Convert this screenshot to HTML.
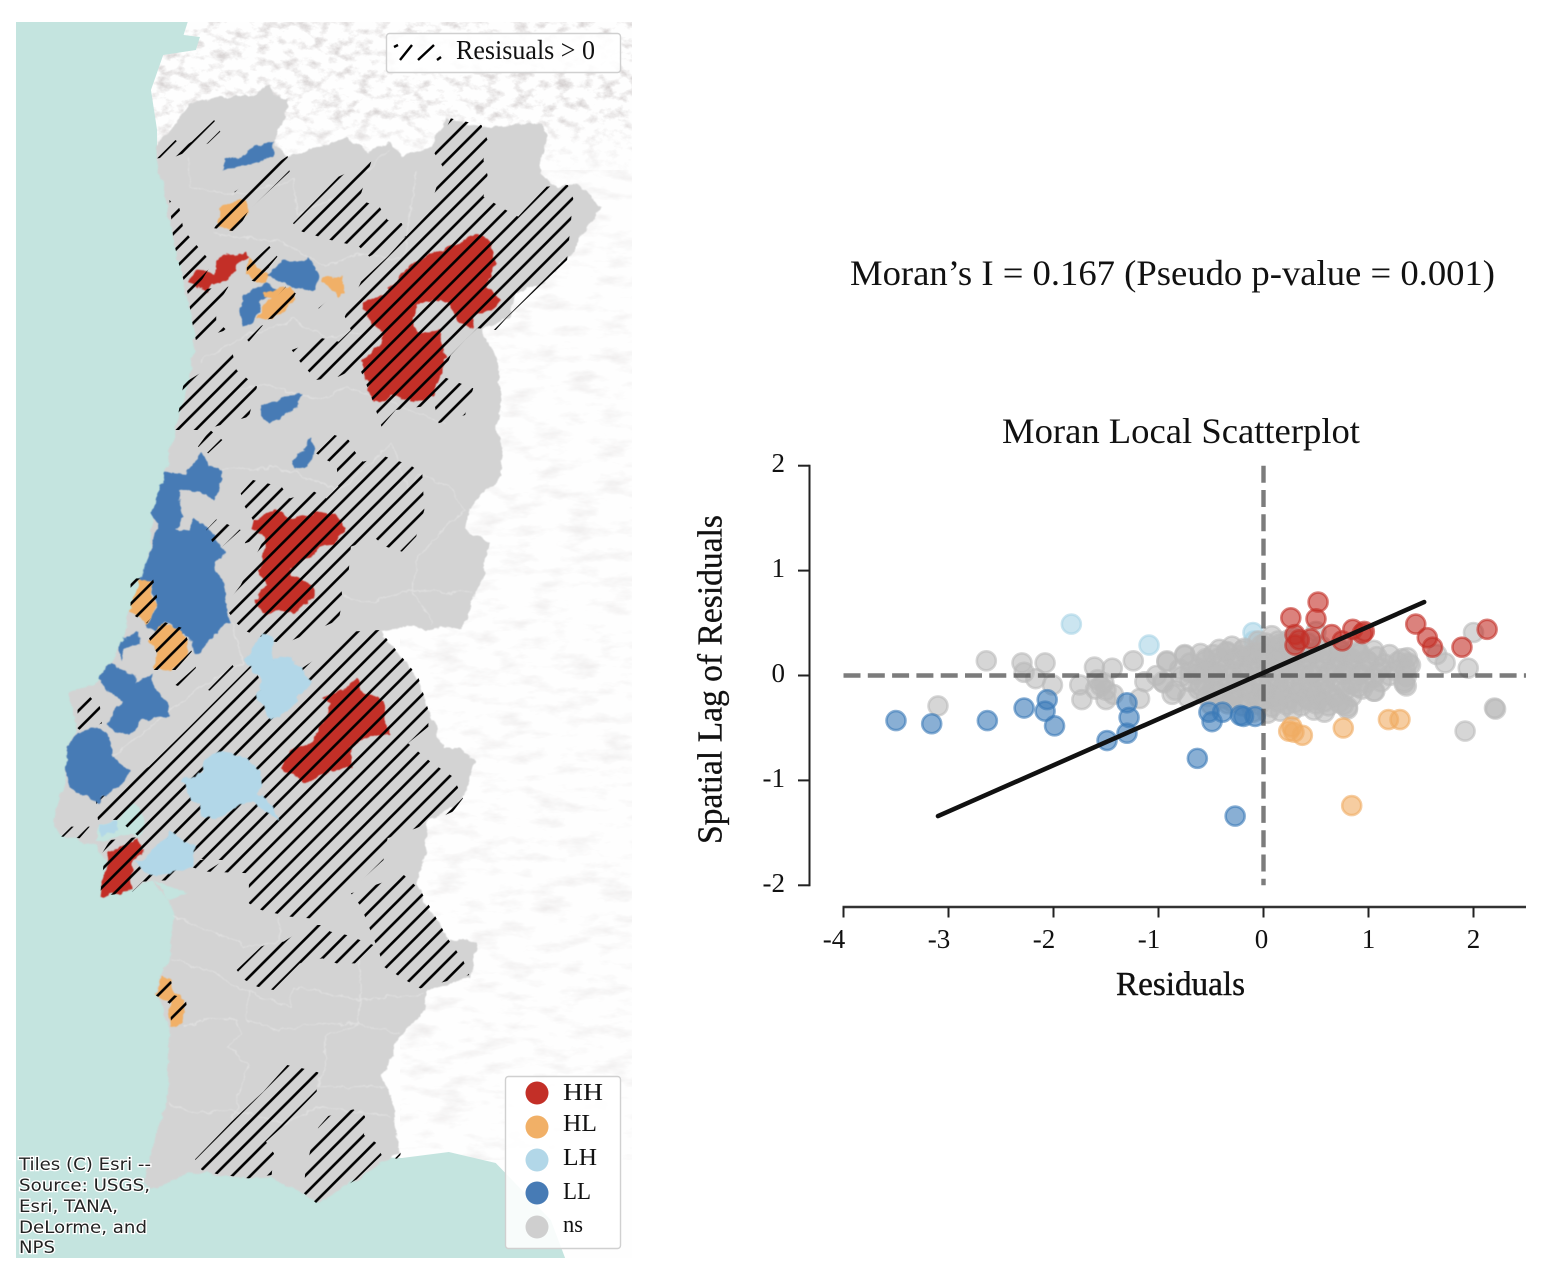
<!DOCTYPE html>
<html lang="en">
<head>
<meta charset="utf-8">
<title>Moran Local Scatterplot and Map</title>
<style>
html,body{margin:0;padding:0;background:#fff;width:1558px;height:1286px;overflow:hidden}
svg{display:block;position:absolute;left:0;top:0}
text{font-family:"Liberation Serif",serif;fill:#111}
.r{stroke:none}
.b{fill:none;stroke:#e0e0e0;stroke-width:1;vector-effect:non-scaling-stroke}
</style>
</head>
<body>
<svg id="figure" width="1558" height="1286" viewBox="0 0 1558 1286" xmlns="http://www.w3.org/2000/svg">
<defs>
<pattern id="hatch" patternUnits="userSpaceOnUse" width="18.2" height="18.2">
<path d="M-2 8.6L8.6 -2M4.6 20.2L20.2 4.6" stroke="#000" stroke-width="2.6" fill="none"/>
</pattern>
<filter id="terrain" x="0" y="0" width="100%" height="100%" color-interpolation-filters="sRGB">
<feTurbulence type="fractalNoise" baseFrequency="0.07 0.1" numOctaves="4" seed="7"/>
<feColorMatrix type="matrix" values="0 0 0 0 0.72  0 0 0 0 0.69  0 0 0 0 0.69  1.5 0 0 0 -0.72"/>
</filter>
<filter id="terrain2" x="0" y="0" width="100%" height="100%" color-interpolation-filters="sRGB">
<feTurbulence type="fractalNoise" baseFrequency="0.03 0.08" numOctaves="4" seed="12"/>
<feColorMatrix type="matrix" values="0 0 0 0 0.8  0 0 0 0 0.78  0 0 0 0 0.78  0.7 0 0 0 -0.34"/>
</filter>
<linearGradient id="fadeNorth" x1="0" y1="0" x2="0" y2="1">
<stop offset="0" stop-color="#fff"/><stop offset=".55" stop-color="#fff"/><stop offset="1" stop-color="#000"/>
</linearGradient>
<mask id="northMask" maskUnits="userSpaceOnUse" x="150" y="22" width="482" height="160">
<rect x="150" y="22" width="482" height="160" fill="url(#fadeNorth)"/>
</mask>
<filter id="rough" x="-3%" y="-3%" width="106%" height="106%" color-interpolation-filters="sRGB">
<feTurbulence type="fractalNoise" baseFrequency="0.09" numOctaves="3" seed="3" result="n"/>
<feDisplacementMap in="SourceGraphic" in2="n" scale="8" xChannelSelector="R" yChannelSelector="G" result="d"/>
<feGaussianBlur in="d" stdDeviation="0.5"/>
</filter>
<clipPath id="mapclip"><rect x="16" y="22" width="616" height="1236"/></clipPath>
<clipPath id="hatchclip">
<polygon transform="scale(.408 .3333)" points="385,475 430,420 450,440 470,425 525,360 540,395 510,430 430,470"/>
<polygon transform="scale(.408 .3333)" points="575,575 705,468 710,515 610,630 580,695 525,685 545,640 575,600"/>
<polygon transform="scale(.408 .3333)" points="415,600 440,625 450,690 485,740 520,790 480,870 560,860 530,920 530,960 555,990 480,1020 470,960 460,880 440,800 425,720"/>
<polygon transform="scale(.408 .3333)" points="605,800 660,738 680,770 660,800 650,850 605,840"/>
<polygon transform="scale(.408 .3333)" points="625,965 700,860 725,880 695,950"/>
<polygon transform="scale(.408 .3333)" points="780,925 845,860 850,880 790,930"/>
<polygon transform="scale(.408 .3333)" points="590,1000 645,975 610,1025"/>
<polygon transform="scale(.408 .3333)" points="718,670 830,530 910,485 880,600 930,620 950,660 985,670 995,710 905,770 880,740 810,720 740,695"/>
<polygon transform="scale(.408 .3333)" points="1065,460 1105,355 1180,375 1195,420 1185,480 1195,525 1185,590 1240,630 1270,650 1285,630 1340,560 1392,555 1405,595 1390,780 1330,850 1245,950 1215,990 1170,985 1140,1020 1105,1065 1085,1130 1160,1165 1140,1245 1075,1270 1065,1215 970,1230 935,1280 910,1190 880,1100 830,1130 775,1140 735,1085 715,1050 790,1015 830,1025 860,990 845,950 885,845 950,770 995,710 1050,640 1085,500"/>
<polygon transform="scale(.408 .3333)" points="430,1290 450,1150 570,1060 580,1110 630,1160 610,1250 500,1290"/>
<polygon transform="translate(0 430) scale(.408 .3333)" points="485,50 515,0 545,30 510,70"/>
<polygon transform="translate(0 430) scale(.408 .3333)" points="590,190 620,150 690,170 710,205 770,185 800,205 890,95 945,80 1005,105 1035,130 1040,240 1020,320 985,365 945,350 920,325 860,350 855,420 835,460 840,510 830,570 700,640 670,635 605,605 580,580 550,530 590,465 650,320 600,340 620,270 600,230"/>
<polygon transform="translate(0 430) scale(.408 .3333)" points="775,70 820,15 855,30 870,65 890,95 830,185 825,105 800,90"/>
<polygon transform="translate(0 430) scale(.408 .3333)" points="505,300 530,268 590,300 545,350 520,335"/>
<polygon transform="translate(0 430) scale(.408 .3333)" points="930,600 1025,740 1050,840 1050,890 1040,900 1000,940 1060,1000 1110,1040 1135,1105 1110,1145 1020,1195 950,1225 940,1290 500,1290 400,1240 370,1290 340,1290 340,1220 290,1170 240,1170 235,1110 365,1010 465,890 620,700 640,760 670,690 740,715 830,640 860,605"/>
<polygon transform="translate(0 430) scale(.408 .3333)" points="150,1220 175,1190 220,1190 195,1225"/>
<polygon transform="translate(0 430) scale(.408 .3333)" points="190,895 190,840 195,805 220,800 245,830 250,880 200,905"/>
<polygon transform="translate(0 430) scale(.408 .3333)" points="320,445 375,445 390,530 360,580 320,550"/>
<polygon transform="translate(0 430) scale(.408 .3333)" points="365,625 400,575 450,595 470,665 430,720 370,720 385,670"/>
<polygon transform="translate(0 430) scale(.408 .3333)" points="430,765 480,710 480,730 440,770"/>
<polygon transform="translate(0 430) scale(.408 .3333)" points="510,780 570,705 575,715 520,785"/>
<polygon transform="translate(0 430) scale(.408 .3333)" points="240,1290 270,1230 350,1220 355,1290"/>
<polygon transform="translate(0 860) scale(.408 .3333)" points="245,110 255,0 505,0 505,35 440,10 425,60 350,65 325,95"/>
<polygon transform="translate(0 860) scale(.408 .3333)" points="505,35 550,0 940,0 860,90 780,150 760,175 710,170 640,150 610,130 610,75 620,40"/>
<polygon transform="translate(0 860) scale(.408 .3333)" points="860,100 990,45 1030,90 1100,240 1135,300 1150,345 1030,385 1000,365 940,320 930,280 885,140"/>
<polygon transform="translate(0 860) scale(.408 .3333)" points="580,330 640,260 660,250 695,245 760,195 785,195 810,215 850,225 915,255 870,310 825,310 790,295 735,310 670,390 630,380 600,360"/>
<polygon transform="translate(0 860) scale(.408 .3333)" points="380,405 400,350 420,365 425,405 455,415 458,440 445,490 420,495 415,430"/>
<polygon transform="translate(150 1040) scale(.3333)" points="340,155 412,75 458,85 505,97 500,155 395,262 348,305 372,340 365,405 295,415 200,402 155,390 135,358 245,245 300,192"/>
<polygon transform="translate(150 1040) scale(.3333)" points="465,405 480,335 505,262 535,228 610,208 645,228 642,285 678,308 695,345 620,418 500,490 462,460"/>
<polygon transform="translate(150 1040) scale(.3333)" points="735,355 752,338 750,358"/>
</clipPath>
</defs>

<g id="map" clip-path="url(#mapclip)">
<rect x="16" y="22" width="616" height="1236" fill="#fefefe"/>
<g mask="url(#northMask)"><rect x="150" y="22" width="482" height="160" filter="url(#terrain)"/></g>
<rect x="400" y="170" width="232" height="990" filter="url(#terrain2)"/>
<polygon fill="#c4e4df" transform="scale(.408 1)" points="39,22 460,22 450,35 490,37 480,50 400,55 370,90 385,130 385,160 500,200 500,1150 985,1158 1100,1152 1215,1163 1350,1220 1385,1258 39,1258"/>
<g filter="url(#rough)">
<polygon fill="#d3d3d3" transform="scale(.408 1)" points="385,160 385,147 470,103 540,97 620,97 660,83 665,97 705,98 700,117 670,140 700,157 790,145 850,138 900,152 950,143 985,155 1060,147 1070,133 1100,117 1130,123 1180,127 1330,123 1340,137 1320,173 1370,187 1420,185 1475,207 1420,240 1400,253 1330,283 1260,293 1250,317 1180,330 1210,353 1225,377 1230,400 1215,430 1235,450 1225,477 1150,507 1140,530 1200,543 1190,570 1170,590 1130,630 1000,627 930,630 1020,677 1050,710 1090,747 1130,747 1165,763 1135,800 1050,820 1040,860 1020,880 1040,903 1100,940 1170,942 1150,977 1050,990 1040,1010 975,1040 938,1078 960,1097 980,1153 938,1162 875,1179 777,1203 747,1195 669,1178 563,1177 473,1172 368,1190 355,1180 380,1137 415,1093 410,1067 415,1027 380,993 420,953 425,917 410,897 370,880 320,890 245,897 255,877 255,860 240,847 200,841 150,836 130,820 130,817 160,783 165,747 190,730 170,693 235,683 270,663 300,643 320,610 350,580 380,510 405,473 430,430 470,367 480,333 460,300 420,233 400,187"/>
<polygon fill="#c4e4df" transform="translate(0 430) scale(.408 .3333)" points="232,1235 260,1225 330,1215 345,1225 355,1170 340,1125 320,1120 290,1170 240,1190"/>
<polygon fill="#c4e4df" transform="translate(0 860) scale(.408 .3333)" points="370,55 460,100 415,120 395,80"/>
<g>
<polyline class="b" transform="translate(0 860) scale(.408 .3333)" points="420,170 530,215 600,260 690,245 680,170"/>
<polyline class="b" transform="translate(0 860) scale(.408 .3333)" points="415,300 480,320 560,360 610,400 605,480 680,510 780,490 880,490 980,520"/>
<polyline class="b" transform="translate(0 860) scale(.408 .3333)" points="450,500 520,470 580,480 590,520 555,560 610,620 590,680 570,790"/>
<polyline class="b" transform="translate(0 860) scale(.408 .3333)" points="885,300 880,420 880,490 790,530 800,600 780,680 950,680"/>
<polyline class="b" transform="translate(0 860) scale(.408 .3333)" points="415,730 470,760 570,750 700,790 780,740 960,770"/>
<polyline class="b" transform="translate(0 860) scale(.408 .3333)" points="610,400 710,440 720,380 880,420 1040,400"/>
<polyline class="b" transform="translate(0 430) scale(.408 .3333)" points="540,120 680,110 830,180 960,40 1000,180 1030,130 1100,170 1140,240 1020,380 1010,480 1060,580"/>
<polyline class="b" transform="translate(0 430) scale(.408 .3333)" points="840,500 900,520 1000,480 1160,490"/>
<polyline class="b" transform="translate(0 430) scale(.408 .3333)" points="560,560 600,700 500,760 360,900 280,980"/>
<polyline class="b" transform="translate(0 430) scale(.408 .3333)" points="360,400 430,440 480,510 540,490"/>
<polyline class="b" transform="scale(.408 .3333)" points="460,470 470,560 560,590 720,540 730,640 830,590 950,450"/>
<polyline class="b" transform="scale(.408 .3333)" points="520,700 680,720 800,800 880,760 990,780 1020,520"/>
<polyline class="b" transform="scale(.408 .3333)" points="490,1090 520,1060 620,1000 720,960 800,1010 880,1000"/>
<polyline class="b" transform="scale(.408 .3333)" points="560,1180 640,1150 780,1200 850,1160 1090,1270"/>
</g>
<polygon class="r" fill="#c32f27" transform="scale(.408 .3333)" points="460,845 485,815 525,820 535,770 600,760 610,780 580,790 555,845 520,845 505,880 480,855"/>
<polygon class="r" fill="#c32f27" transform="scale(.408 .3333)" points="890,910 940,880 1000,800 1060,760 1120,735 1170,700 1205,730 1220,790 1190,860 1230,900 1200,930 1160,950 1155,985 1120,960 1100,910 1060,900 1020,920 1015,975 1030,1000 1075,990 1085,1050 1095,1075 1075,1130 1060,1190 1030,1205 960,1190 925,1210 905,1180 885,1085 930,1040 940,1000 905,975"/>
<polygon class="r" fill="#c32f27" transform="translate(0 430) scale(.408 .3333)" points="620,270 680,240 710,265 745,260 790,245 820,250 850,295 820,345 780,350 770,375 710,410 715,430 770,470 770,500 720,550 680,540 650,555 625,510 650,460 635,420 650,350 650,320 620,300"/>
<polygon class="r" fill="#c32f27" transform="translate(0 430) scale(.408 .3333)" points="790,805 855,770 875,745 890,785 940,810 945,875 955,910 910,920 860,950 860,1010 805,1025 745,1060 720,1030 685,1015 715,960 760,940 790,880 800,850 815,825"/>
<polygon class="r" fill="#c32f27" transform="translate(0 430) scale(.408 .3333)" points="265,1265 340,1225 350,1270 325,1290 320,1350 325,1380 245,1400 255,1340"/>
<polygon class="r" fill="#477bb5" transform="scale(.408 .3333)" points="585,930 600,880 650,850 680,870 640,900 625,960 595,980"/>
<path class="r" fill="#477bb5" transform="translate(0 430) scale(.408 .3333)" d="M495 60L510 105L545 120L540 170L530 210L490 190L440 180L435 200L450 260L430 300L465 295L470 265L510 290L550 370L525 400L550 470L565 580L530 610L480 675L455 610L405 575L380 610L360 580L385 530L370 460L345 450L375 320L390 280L370 250L405 125L460 130Z"/>
<polygon class="r" fill="#f1b067" transform="scale(.408 .3333)" points="530,680 540,620 600,600 610,635 570,695"/>
<polygon class="r" fill="#f1b067" transform="scale(.408 .3333)" points="610,780 630,800 660,825 650,850 620,840 605,820"/>
<polygon class="r" fill="#f1b067" transform="scale(.408 .3333)" points="790,835 840,830 845,880 830,890 805,860 790,850"/>
<polygon class="r" fill="#f1b067" transform="scale(.408 .3333)" points="650,875 715,860 720,900 690,945 630,960 640,920 670,890 650,885"/>
<polygon class="r" fill="#f1b067" transform="translate(0 430) scale(.408 .3333)" points="345,450 370,455 375,510 385,525 360,580 320,545 325,510"/>
<polygon class="r" fill="#f1b067" transform="translate(0 430) scale(.408 .3333)" points="400,580 450,600 465,665 430,715 375,720 385,670 365,630"/>
<polygon class="r" fill="#f1b067" transform="translate(0 860) scale(.408 .3333)" points="400,350 420,365 425,405 455,415 455,440 445,490 420,495 415,430 380,405"/>
</g>
<rect x="16" y="22" width="616" height="1236" fill="url(#hatch)" clip-path="url(#hatchclip)"/>
<g filter="url(#rough)">
<polygon class="r" fill="#477bb5" transform="scale(.408 .3333)" points="548,478 600,465 625,435 670,425 672,465 620,490 580,500 550,515"/>
<polygon class="r" fill="#477bb5" transform="scale(.408 .3333)" points="655,825 690,785 735,785 755,770 780,825 780,860 765,875 720,860 680,845"/>
<polygon class="r" fill="#477bb5" transform="scale(.408 .3333)" points="635,1215 680,1210 700,1185 735,1180 730,1220 690,1250 665,1270 635,1250"/>
<polygon class="r" fill="#477bb5" transform="translate(0 430) scale(.408 .3333)" points="765,25 775,70 745,115 720,120 715,90 745,60"/>
<polygon class="r" fill="#477bb5" transform="translate(0 430) scale(.408 .3333)" points="300,625 340,605 340,645 310,650 295,690 290,665"/>
<polygon class="r" fill="#477bb5" transform="translate(0 430) scale(.408 .3333)" points="240,745 270,700 330,735 335,760 370,730 380,775 415,825 415,855 345,870 330,905 290,910 260,885 300,815 245,760"/>
<polygon class="r" fill="#477bb5" transform="translate(0 430) scale(.408 .3333)" points="165,950 190,910 235,890 270,920 275,980 320,1025 300,1060 240,1115 175,1080 160,1010"/>
<polygon class="r" fill="#b2d7e8" transform="translate(0 430) scale(.408 .3333)" points="640,610 665,620 670,680 715,685 765,755 700,850 665,865 630,810 640,750 600,690"/>
<polygon class="r" fill="#b2d7e8" transform="translate(0 430) scale(.408 .3333)" points="500,990 540,960 610,985 640,1030 640,1075 630,1085 665,1120 685,1170 620,1120 590,1120 530,1170 495,1160 490,1120 470,1110 445,1050 490,1035"/>
<polygon class="r" fill="#b2d7e8" transform="translate(0 430) scale(.408 .3333)" points="240,1190 290,1170 290,1200 250,1220"/>
<polygon class="r" fill="#b2d7e8" transform="translate(0 430) scale(.408 .3333)" points="350,1290 420,1200 450,1240 480,1240 470,1315 465,1315 440,1325 370,1340 350,1325 330,1290"/>
</g>
<g>
<text x="19" y="1170" font-size="16.5" style="font-family:'DejaVu Sans',sans-serif;paint-order:stroke;stroke:#fff;stroke-width:2.5px;fill:#222" textLength="132" lengthAdjust="spacingAndGlyphs">Tiles (C) Esri --</text>
<text x="19" y="1191" font-size="16.5" style="font-family:'DejaVu Sans',sans-serif;paint-order:stroke;stroke:#fff;stroke-width:2.5px;fill:#222" textLength="131" lengthAdjust="spacingAndGlyphs">Source: USGS,</text>
<text x="19" y="1212" font-size="16.5" style="font-family:'DejaVu Sans',sans-serif;paint-order:stroke;stroke:#fff;stroke-width:2.5px;fill:#222" textLength="99" lengthAdjust="spacingAndGlyphs">Esri, TANA,</text>
<text x="19" y="1233" font-size="16.5" style="font-family:'DejaVu Sans',sans-serif;paint-order:stroke;stroke:#fff;stroke-width:2.5px;fill:#222" textLength="128" lengthAdjust="spacingAndGlyphs">DeLorme, and</text>
<text x="19" y="1253" font-size="16.5" style="font-family:'DejaVu Sans',sans-serif;paint-order:stroke;stroke:#fff;stroke-width:2.5px;fill:#222" textLength="36" lengthAdjust="spacingAndGlyphs">NPS</text>
</g>
</g>

<g>
<rect x="386.5" y="33.5" width="234" height="39" rx="3" fill="#fff" fill-opacity=".88" stroke="#d0d0d0" stroke-width="1.4"/>
<path d="M394 47L398 45M400 60L412 45M418 60L434 45M437 60L441 57" stroke="#000" stroke-width="2.4" fill="none"/>
<text x="456" y="59" font-size="27" textLength="139" lengthAdjust="spacingAndGlyphs">Resisuals &gt; 0</text>
</g>

<g>
<rect x="505.5" y="1076.5" width="115" height="172" rx="3" fill="#fff" fill-opacity=".88" stroke="#d0d0d0" stroke-width="1.4"/>
<circle cx="537" cy="1093" r="11.5" fill="#c32f27"/>
<circle cx="537" cy="1127" r="11.5" fill="#f1b067"/>
<circle cx="537" cy="1160" r="11.5" fill="#b2d7e8"/>
<circle cx="537" cy="1193" r="11.5" fill="#477bb5"/>
<circle cx="537" cy="1227" r="11.5" fill="#cfcfcf"/>
<text x="563" y="1100" font-size="24" textLength="40" lengthAdjust="spacingAndGlyphs">HH</text>
<text x="563" y="1131" font-size="24" textLength="34" lengthAdjust="spacingAndGlyphs">HL</text>
<text x="563" y="1165" font-size="24" textLength="34" lengthAdjust="spacingAndGlyphs">LH</text>
<text x="563" y="1199" font-size="24" textLength="28" lengthAdjust="spacingAndGlyphs">LL</text>
<text x="563" y="1232" font-size="24" textLength="20" lengthAdjust="spacingAndGlyphs">ns</text>
</g>

<text x="850" y="285" font-size="36" textLength="645" lengthAdjust="spacingAndGlyphs">Moran’s I = 0.167 (Pseudo p-value = 0.001)</text>
<text x="1002" y="443" font-size="36" textLength="358" lengthAdjust="spacingAndGlyphs">Moran Local Scatterplot</text>
<text x="1116" y="995" font-size="34" textLength="129" lengthAdjust="spacingAndGlyphs" style="stroke:#111;stroke-width:.4px">Residuals</text>
<text transform="translate(721.5 844) rotate(-90)" font-size="35" textLength="329" lengthAdjust="spacingAndGlyphs" style="stroke:#111;stroke-width:.3px">Spatial Lag of Residuals</text>

<g id="chart"></g>
</svg>

<script>
const xTicks = [-4, -3, -2, -1, 0, 1, 2];
const yTicks = [-2, -1, 0, 1, 2];
const xTickLabels = ["-4", "-3", "-2", "-1", "0", "1", "2"];
const yTickLabels = ["-2", "-1", "0", "1", "2"];

const nsX = [
-3.10,-2.64,-2.30,-2.08,-2.28,-2.17,-2.01,-1.61,-1.44,-1.24,-1.75,-1.73,-1.50,-1.43,-1.18,-1.13,-0.92,-0.75,-0.96,-0.87,
-1.58,-1.52,-1.60,-1.50,-1.55,
2.00,1.73,1.95,2.20,2.21,1.92,1.65,1.34,1.37,1.05,0.80,1.40,1.36,
-0.05,0.08,0.16,0.30,0.42,0.50,
-0.42,-0.30,-0.18,-0.02,0.12,0.22,0.36,0.55,0.72,0.88,1.05,
-0.75,-0.60,-0.48,-0.35,-0.22,-0.10,0.05,0.18,0.32,0.48,0.62,0.78,0.92,1.08,1.20,1.32,
-0.92,-0.70,-0.55,-0.40,-0.28,-0.12,0.02,0.15,0.28,0.42,0.58,0.72,0.85,1.00,1.15,1.28,1.38,
-0.80,-0.62,-0.50,-0.36,-0.20,-0.06,0.10,0.24,0.38,0.52,0.68,0.82,0.96,1.12,1.25,1.35,
-1.02,-0.78,-0.64,-0.48,-0.32,-0.18,-0.04,0.12,0.28,0.44,0.60,0.76,0.90,1.05,1.20,1.36,
-0.95,-0.70,-0.56,-0.42,-0.26,-0.10,0.06,0.20,0.36,0.52,0.70,0.84,0.98,1.12,1.34,
-0.84,-0.62,-0.46,-0.30,-0.14,0.02,0.16,0.32,0.46,0.60,0.78,0.94,1.06,
-0.72,-0.54,-0.38,-0.22,-0.06,0.10,0.24,0.40,0.52,0.68,0.84,
-0.50,-0.34,-0.20,-0.04,0.08,0.22,0.36,0.50,0.62,0.76,
-0.10,0.04,0.16,0.28,0.48,0.58,0.80,
-0.55,-0.42,-0.28,-0.15,0.00,0.12,0.26,0.40,0.55,0.70,0.84,0.98,
-0.70,-0.56,-0.44,-0.30,-0.14,0.02,0.18,0.32,0.46,0.62,0.78,0.92,1.08,
-0.60,-0.48,-0.34,-0.18,-0.02,0.14,0.28,0.44,0.58,0.76,0.90,
-0.44,-0.28,-0.12,0.04,0.18,0.34,0.50,0.66,
-0.30,-0.14,0.00,0.14,0.30,0.44,0.58,0.72,
-0.35,-0.20,-0.05,0.10,0.25,0.40,0.56,0.72,0.90,
0.02,0.14,0.24,0.34
];
const nsY = [
-0.29,0.14,0.12,0.12,0.03,-0.03,-0.09,0.08,0.07,0.14,-0.09,-0.23,-0.23,-0.18,-0.22,-0.06,0.14,0.20,-0.06,-0.18,
-0.04,-0.07,-0.13,-0.14,-0.10,
0.41,0.12,0.07,-0.31,-0.32,-0.53,0.20,-0.06,0.17,-0.15,-0.30,0.10,-0.10,
0.33,0.38,0.30,0.36,0.31,0.42,
0.25,0.28,0.26,0.29,0.27,0.29,0.26,0.28,0.26,0.27,0.24,
0.19,0.21,0.20,0.22,0.19,0.21,0.20,0.22,0.19,0.21,0.20,0.19,0.21,0.18,0.20,0.16,
0.13,0.12,0.14,0.13,0.15,0.12,0.14,0.13,0.12,0.15,0.13,0.14,0.12,0.13,0.11,0.13,0.12,
0.06,0.07,0.05,0.07,0.06,0.08,0.05,0.07,0.06,0.05,0.07,0.06,0.05,0.07,0.05,0.06,
0.00,-0.01,0.01,0.00,-0.02,0.01,0.00,-0.01,0.01,0.00,-0.01,0.01,0.00,-0.02,0.00,-0.01,
-0.07,-0.06,-0.08,-0.07,-0.06,-0.08,-0.07,-0.06,-0.08,-0.07,-0.06,-0.08,-0.07,-0.06,-0.08,
-0.14,-0.13,-0.15,-0.14,-0.13,-0.15,-0.14,-0.16,-0.13,-0.15,-0.14,-0.13,-0.15,
-0.21,-0.20,-0.22,-0.21,-0.22,-0.20,-0.22,-0.21,-0.23,-0.21,-0.20,
-0.28,-0.27,-0.29,-0.28,-0.30,-0.28,-0.29,-0.27,-0.29,-0.28,
-0.35,-0.36,-0.34,-0.33,-0.33,-0.35,-0.32,
0.16,0.17,0.16,0.18,0.17,0.16,0.18,0.17,0.16,0.17,0.16,0.15,
0.03,0.04,0.02,0.03,0.04,0.02,0.03,0.04,0.02,0.03,0.04,0.02,0.03,
-0.10,-0.11,-0.09,-0.10,-0.11,-0.09,-0.10,-0.11,-0.09,-0.10,-0.11,
-0.18,-0.19,-0.17,-0.18,-0.19,-0.17,-0.18,-0.19,
-0.25,-0.26,-0.24,-0.25,-0.26,-0.24,-0.25,-0.26,
0.23,0.24,0.22,0.23,0.24,0.22,0.23,0.24,0.22,
0.31,0.33,0.34,0.32
];

const llX = [-3.50,-3.16,-2.63,-2.28,-2.06,-2.08,-1.99,-1.30,-1.28,-1.30,-1.49,-0.63,-0.27,-0.49,-0.52,-0.39,-0.22,-0.19,-0.08];
const llY = [-0.43,-0.46,-0.43,-0.31,-0.23,-0.34,-0.48,-0.26,-0.40,-0.55,-0.62,-0.79,-1.34,-0.44,-0.35,-0.35,-0.38,-0.39,-0.39];

const lhX = [-1.83,-1.09,-0.10,-0.09];
const lhY = [0.49,0.29,0.41,0.33];

const hlX = [0.27,0.24,0.29,0.37,0.76,1.19,1.30,0.84];
const hlY = [-0.49,-0.53,-0.54,-0.57,-0.50,-0.42,-0.42,-1.24];

const hhX = [0.52,0.26,0.50,0.30,0.30,0.45,0.65,0.75,0.85,0.94,0.96,0.34,1.45,1.56,1.61,1.89,2.13];
const hhY = [0.70,0.55,0.54,0.39,0.29,0.35,0.39,0.33,0.44,0.40,0.42,0.34,0.49,0.36,0.27,0.27,0.44];

const fitX = [-3.10,1.53];
const fitY = [-1.34,0.70];

const NS = 'http://www.w3.org/2000/svg';
const chart = document.getElementById('chart');
const X = v => 1263.5 + v * 105;
const Y = v => 675.5 - v * 104.9;

function mk(tag, attrs, parent) {
  const el = document.createElementNS(NS, tag);
  for (const k in attrs) el.setAttribute(k, attrs[k]);
  (parent || chart).appendChild(el);
  return el;
}

const ySpine = mk('line', {x1: 809.5, x2: 809.5, y1: Y(2) - 1, y2: Y(-2) + 1, stroke: '#222', 'stroke-width': 2});



yTicks.forEach((t, i) => {
  const tick = mk('line', {x1: 798, x2: 809.5, y1: Y(t), y2: Y(t), stroke: '#222', 'stroke-width': 2});
  
  
  const label = mk('text', {x: 785, y: Y(t) + 6.5, 'text-anchor': 'end', 'font-size': 27});
  
  
  label.textContent = yTickLabels[i];
});

const xSpine = mk('line', {x1: X(-4) - 1, x2: 1526, y1: 907, y2: 907, stroke: '#333', 'stroke-width': 2.6});



xTicks.forEach((t, i) => {
  const tick = mk('line', {x1: X(t), x2: X(t), y1: 907, y2: 917.5, stroke: '#222', 'stroke-width': 2});
  
  
  const label = mk('text', {x: X(t) + (t < 0 ? -9.5 : (t === 0 ? -2 : 0)), y: 948, 'text-anchor': 'middle', 'font-size': 27});
  
  
  label.textContent = xTickLabels[i];
});

function drawSeries(xs, ys, color, name) {
  const g = mk('g', {});
  
  
  xs.forEach((v, i) => {
    const c = mk('circle', {cx: X(v), cy: Y(ys[i]), r: 9.5, fill: color, stroke: color, 'stroke-width': 2.6, 'fill-opacity': 0.6, 'stroke-opacity': 0.6}, g);
    
    
  });
}
drawSeries(lhX, lhY, '#a9d3e6', 'lh');
drawSeries(nsX, nsY, '#bababa', 'ns');
drawSeries(llX, llY, '#3b7ab8', 'll');
drawSeries(hlX, hlY, '#f0ab62', 'hl');
drawSeries(hhX, hhY, '#c32f27', 'hh');

const hLine = mk('line', {x1: X(-4), x2: 1526, y1: Y(0), y2: Y(0), stroke: '#444', 'stroke-opacity': 0.7, 'stroke-width': 4.4, 'stroke-dasharray': '17 7.3'});


const vLine = mk('line', {x1: X(0), x2: X(0), y1: Y(2), y2: Y(-2), stroke: '#444', 'stroke-opacity': 0.7, 'stroke-width': 4.4, 'stroke-dasharray': '17 7.3'});



const fit = mk('line', {x1: X(fitX[0]), y1: Y(fitY[0]), x2: X(fitX[1]), y2: Y(fitY[1]), stroke: '#111', 'stroke-width': 4.6, 'stroke-linecap': 'round'});


</script>
</body>
</html>
